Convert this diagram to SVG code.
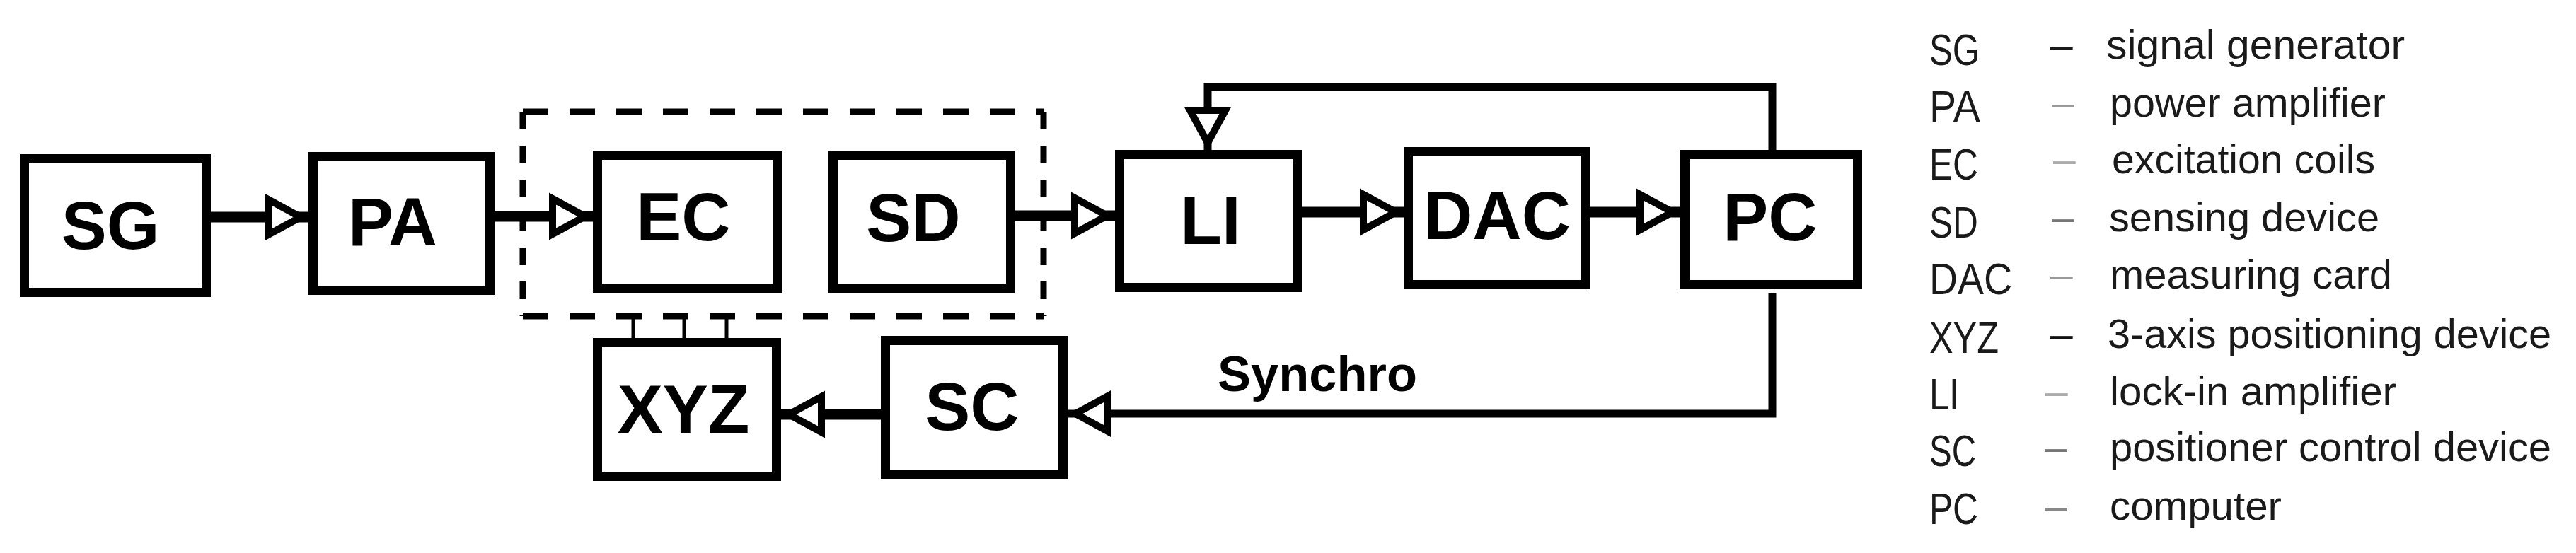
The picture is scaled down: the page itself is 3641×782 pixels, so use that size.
<svg xmlns="http://www.w3.org/2000/svg" width="3641" height="782" viewBox="0 0 3641 782">
<style>
.box{fill:#fff;stroke:#000;stroke-width:13}
.lbl{font-family:"Liberation Sans",Arial,sans-serif;font-weight:bold;font-size:96px;fill:#000;text-anchor:middle}
.con{fill:none;stroke:#000;stroke-width:15}
.thin{fill:none;stroke:#000;stroke-width:11}
.tick{fill:none;stroke:#000;stroke-width:5}
.dash{fill:none;stroke:#000;stroke-width:9}
.lg{font-family:"Liberation Sans",Arial,sans-serif;font-size:57px;fill:#1a1a1a}
.ab{font-family:"Liberation Sans",Arial,sans-serif;font-size:63px;fill:#1a1a1a}
</style>
<defs>
<marker id="tri" viewBox="0 0 76 80" refX="67" refY="40" markerWidth="76" markerHeight="80" orient="auto" markerUnits="userSpaceOnUse" overflow="visible">
<path d="M10,15 L56,40 L10,65 Z" fill="#fff" stroke="#000" stroke-width="10"/>
</marker>
</defs>
<rect width="3641" height="782" fill="#fff"/>

<g id="group-box">
<line class="dash" x1="739" y1="158" x2="1475" y2="158" stroke-dasharray="36 30"/>
<line class="dash" x1="739" y1="447" x2="1475" y2="447" stroke-dasharray="36 30"/>
<line class="dash" x1="739" y1="158" x2="739" y2="447" stroke-dasharray="25 23"/>
<line class="dash" x1="1475" y1="158" x2="1475" y2="447" stroke-dasharray="25 23"/>
</g>

<g id="connectors">
<path class="con" d="M297,307 H436" marker-end="url(#tri)"/>
<path class="con" d="M699,306 H838" marker-end="url(#tri)"/>
<path class="con" d="M1435,305 H1576" marker-end="url(#tri)"/>
<path class="con" d="M1840,300 H1984" marker-end="url(#tri)"/>
<path class="con" d="M2247,300 H2375" marker-end="url(#tri)"/>
<path class="thin" d="M2505,214 V123 H1707 V213" marker-end="url(#tri)"/>
<path class="thin" d="M2505,414 V585 H1509" marker-end="url(#tri)"/>
<path class="con" d="M1245,586 H1104" marker-end="url(#tri)"/>
<line class="tick" x1="895" y1="447" x2="895" y2="478"/>
<line class="tick" x1="967" y1="447" x2="967" y2="478"/>
<line class="tick" x1="1027" y1="447" x2="1027" y2="478"/>
<text x="1862" y="553" font-family="Liberation Sans,Arial,sans-serif" font-weight="bold" font-size="70" text-anchor="middle" textLength="282" lengthAdjust="spacingAndGlyphs">Synchro</text>
</g>

<g id="SG"><rect class="box" x="34.5" y="224.5" width="257" height="189"/><text class="lbl" x="156" y="352">SG</text></g>
<g id="PA"><rect class="box" x="442.5" y="221.5" width="250" height="189"/><text class="lbl" x="555" y="347">PA</text></g>
<g id="EC"><rect class="box" x="844.5" y="219.5" width="254" height="189"/><text class="lbl" x="966" y="340">EC</text></g>
<g id="SD"><rect class="box" x="1177.5" y="219.5" width="251" height="189"/><text class="lbl" x="1291" y="341">SD</text></g>
<g id="LI"><rect class="box" x="1582.5" y="218.5" width="251" height="188"/><text class="lbl" x="1711" y="345">LI</text></g>
<g id="DAC"><rect class="box" x="1990.5" y="214.5" width="250" height="188"/><text class="lbl" x="2116" y="338">DAC</text></g>
<g id="PC"><rect class="box" x="2381.5" y="218.5" width="244" height="184"/><text class="lbl" x="2502" y="340">PC</text></g>
<g id="XYZ"><rect class="box" x="844.5" y="484.5" width="253" height="189"/><text class="lbl" x="966" y="612">XYZ</text></g>
<g id="SC"><rect class="box" x="1251.5" y="481.5" width="251" height="189"/><text class="lbl" x="1374" y="608">SC</text></g>

<g id="legend">
<text class="ab" x="2727" y="92" textLength="71" lengthAdjust="spacingAndGlyphs">SG</text>
<text class="lg" x="2898" y="83" fill="#222">–</text>
<text class="lg" x="2977" y="83" textLength="422" lengthAdjust="spacingAndGlyphs">signal generator</text>

<text class="ab" x="2727" y="172" textLength="72" lengthAdjust="spacingAndGlyphs">PA</text>
<text class="lg" x="2900" y="165" style="fill:#999">–</text>
<text class="lg" x="2982" y="165" textLength="390" lengthAdjust="spacingAndGlyphs">power amplifier</text>

<text class="ab" x="2727" y="254" textLength="69" lengthAdjust="spacingAndGlyphs">EC</text>
<text class="lg" x="2902" y="245" style="fill:#aaa">–</text>
<text class="lg" x="2985" y="245" textLength="372" lengthAdjust="spacingAndGlyphs">excitation coils</text>

<text class="ab" x="2727" y="336" textLength="69" lengthAdjust="spacingAndGlyphs">SD</text>
<text class="lg" x="2900" y="327" style="fill:#777">–</text>
<text class="lg" x="2981" y="327" textLength="382" lengthAdjust="spacingAndGlyphs">sensing device</text>

<text class="ab" x="2727" y="416" textLength="117" lengthAdjust="spacingAndGlyphs">DAC</text>
<text class="lg" x="2898" y="408" style="fill:#999">–</text>
<text class="lg" x="2982" y="408" textLength="399" lengthAdjust="spacingAndGlyphs">measuring card</text>

<text class="ab" x="2727" y="499" textLength="98" lengthAdjust="spacingAndGlyphs">XYZ</text>
<text class="lg" x="2898" y="492" style="fill:#111">–</text>
<text class="lg" x="2979" y="492" textLength="627" lengthAdjust="spacingAndGlyphs">3-axis positioning device</text>

<text class="ab" x="2727" y="579" textLength="42" lengthAdjust="spacingAndGlyphs">LI</text>
<text class="lg" x="2891" y="573" style="fill:#aaa">–</text>
<text class="lg" x="2982" y="573" textLength="405" lengthAdjust="spacingAndGlyphs">lock-in amplifier</text>

<text class="ab" x="2727" y="659" textLength="66" lengthAdjust="spacingAndGlyphs">SC</text>
<text class="lg" x="2890" y="652" style="fill:#777">–</text>
<text class="lg" x="2982" y="652" textLength="624" lengthAdjust="spacingAndGlyphs">positioner control device</text>

<text class="ab" x="2727" y="741" textLength="69" lengthAdjust="spacingAndGlyphs">PC</text>
<text class="lg" x="2890" y="735" style="fill:#888">–</text>
<text class="lg" x="2982" y="735" textLength="243" lengthAdjust="spacingAndGlyphs">computer</text>
</g>
</svg>
